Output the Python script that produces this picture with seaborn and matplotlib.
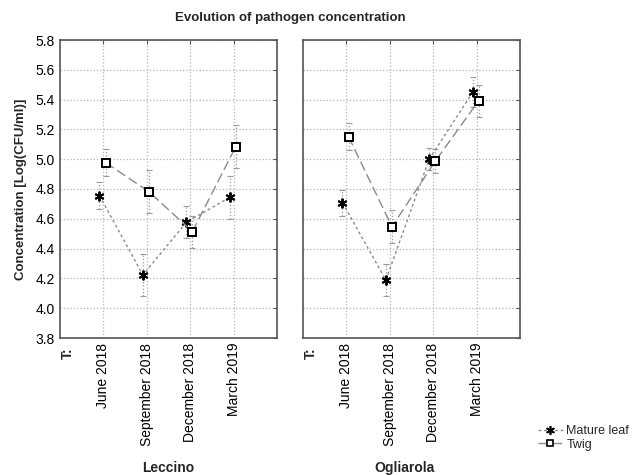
import numpy as np
import pandas as pd
import matplotlib
matplotlib.use("Agg")
import matplotlib.pyplot as plt
from matplotlib.lines import Line2D
import seaborn as sns

# ---- data ----
times = ["June 2018", "September 2018", "December 2018", "March 2019"]
varieties = ["Leccino", "Ogliarola"]
tissues = ["Mature leaf", "Twig"]

leccino_leaf = [4.755, 4.223, 4.576, 4.744]
leccino_leaf_err = [0.090, 0.143, 0.107, 0.144]
leccino_twig = [4.977, 4.782, 4.514, 5.084]
leccino_twig_err = [0.090, 0.145, 0.107, 0.145]

ogliarola_leaf = [4.708, 4.189, 5.001, 5.449]
ogliarola_leaf_err = [0.088, 0.110, 0.076, 0.100]
ogliarola_twig = [5.151, 4.547, 4.988, 5.393]
ogliarola_twig_err = [0.090, 0.110, 0.080, 0.107]

yticks = [3.8, 4.0, 4.2, 4.4, 4.6, 4.8, 5.0, 5.2, 5.4, 5.6, 5.8]

rows = []
series = {
    ("Leccino", "Mature leaf"): (leccino_leaf, leccino_leaf_err),
    ("Leccino", "Twig"): (leccino_twig, leccino_twig_err),
    ("Ogliarola", "Mature leaf"): (ogliarola_leaf, ogliarola_leaf_err),
    ("Ogliarola", "Twig"): (ogliarola_twig, ogliarola_twig_err),
}
for (var, tis), (vals, errs) in series.items():
    for i, (t, v, e) in enumerate(zip(times, vals, errs)):
        rows.append(dict(variety=var, tissue=tis, time=t, idx=i + 1, value=v, err=e))
df = pd.DataFrame(rows)

# ---- style ----
sns.set_style("white")
plt.rcParams["font.family"] = ["Liberation Sans", "DejaVu Sans"]

fig = plt.figure(figsize=(6.36, 4.75), dpi=100)
W, H = 636, 475
def ax_rect(x0, x1, y0, y1):
    return [x0 / W, 1 - y1 / H, (x1 - x0) / W, (y1 - y0) / H]

ax1 = fig.add_axes(ax_rect(60, 277, 40, 338))
ax2 = fig.add_axes(ax_rect(303, 520, 40, 338))

offsets = {"Mature leaf": -0.09, "Twig": 0.05}
line_styles = {"Mature leaf": (0, (2, 2)), "Twig": (0, (7, 3))}
markers = {"Mature leaf": (6, 2, 0), "Twig": "s"}
msizes = {"Mature leaf": 7, "Twig": 5.5}
line_col = "#8a8a8a"

for ax, var in zip([ax1, ax2], varieties):
    for tis in tissues:
        sub = df[(df.variety == var) & (df.tissue == tis)].copy()
        sub["xpos"] = sub["idx"] + offsets[tis]
        ax.errorbar(sub["xpos"], sub["value"], yerr=sub["err"], fmt="none",
                    ecolor="#9a9a9a", elinewidth=0.9, capsize=2.5, capthick=0.8,
                    linestyle=":", zorder=2)
        eb = ax.containers[-1]
        for coll in eb.lines[2]:
            coll.set_linestyle(":")
        sns.lineplot(data=sub, x="xpos", y="value", ax=ax, color=line_col,
                     linewidth=1.0, linestyle=line_styles[tis], marker=markers[tis],
                     markersize=msizes[tis], markeredgecolor="black",
                     markerfacecolor="white", markeredgewidth=1.4,
                     sort=False, zorder=3, legend=False)

    ax.set_xlim(0, 5)
    ax.set_ylim(3.8, 5.8)
    ax.set_xticks(range(1, 5))
    ax.set_xticklabels(times, rotation=90, fontsize=10)
    ax.set_yticks(yticks)
    ax.grid(True, linestyle=":", color="#b5b5b5", linewidth=0.9)
    ax.tick_params(direction="in", length=3, top=True, right=True,
                   colors="#555555", labelcolor="black", labelsize=10)
    for s in ax.spines.values():
        s.set_color("#555555")
        s.set_linewidth(1.2)
    ax.set_xlabel(var, fontsize=10, fontweight="bold")
    ax.set_ylabel("")
    ax.text(0.17, 3.8 - 0.06, "T:", rotation=90, fontsize=10, fontweight="bold",
            ha="center", va="top", transform=ax.transData, clip_on=False)

ax1.set_yticklabels([f"{v:.1f}" for v in yticks])
ax2.set_yticklabels([])
ax1.set_ylabel("Concentration [Log(CFU/ml)]", fontsize=9.5, fontweight="bold", labelpad=6)
ax1.xaxis.set_label_coords(0.50, -0.436)
ax2.xaxis.set_label_coords(0.47, -0.436)
for ax in (ax1, ax2):
    ax.xaxis.label.set_va("center")

fig.text(290 / W, 1 - 18 / H, "Evolution of pathogen concentration",
         fontsize=9.5, fontweight="bold", ha="center", va="center")

handles = [
    Line2D([0], [0], color=line_col, linestyle=line_styles[t], marker=markers[t],
           markersize=msizes[t] * 0.9, markeredgecolor="black",
           markerfacecolor="white", markeredgewidth=1.2, linewidth=1.0)
    for t in tissues
]
fig.legend(handles, tissues, loc="center left", bbox_to_anchor=(530 / W, 1 - 438 / H),
           frameon=False, fontsize=9, handlelength=2.0, handletextpad=0.3,
           labelspacing=0.1, borderpad=0.1)

fig.savefig("out.png", dpi=100)
